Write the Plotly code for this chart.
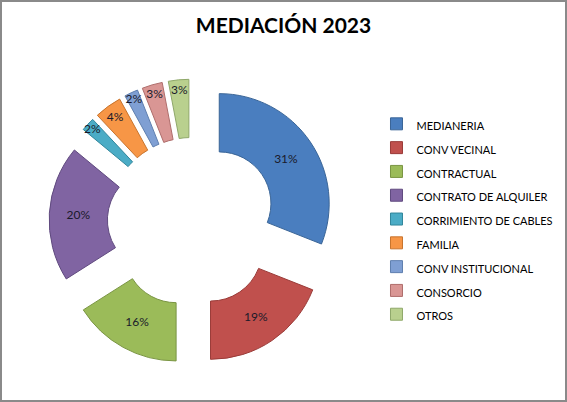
import plotly.graph_objects as go

categories = ["MEDIANERIA", "CONV VECINAL", "CONTRACTUAL", "CONTRATO DE ALQUILER",
              "CORRIMIENTO DE CABLES", "FAMILIA", "CONV INSTITUCIONAL", "CONSORCIO", "OTROS"]
values = [31, 19, 16, 20, 2, 4, 2, 3, 3]
colors = ["#4A7EBF", "#C0504D", "#9BBB59", "#8064A2", "#4BACC6",
          "#F79646", "#7F9FD3", "#D99694", "#B9D08E"]
line_colors = ["#3A6597", "#9A3B38", "#7A9543", "#604A7F", "#31869B",
               "#C8742D", "#5F7FAF", "#AF6E6C", "#8FA86A"]

title_text = "MEDIACIÓN 2023"

fig = go.Figure()
fig.add_trace(go.Pie(
    labels=[f'<span style="font-size:11px">{c}</span>' for c in categories],
    values=values,
    sort=False,
    direction="clockwise",
    rotation=0,
    hole=0.47,
    pull=[0.3] * len(values),
    marker=dict(colors=colors, line=dict(color=line_colors, width=1)),
    textinfo="percent",
    texttemplate="%{percent:.0%}",
    textposition="inside",
    insidetextorientation="horizontal",
    textfont=dict(family="Lato, Open Sans, sans-serif", size=12, color="#1a1a2a"),
    domain=dict(x=[0.0864, 0.5908], y=[0.092, 0.803]),
    hoverinfo="label+percent",
))

fig.update_layout(
    width=567, height=402,
    margin=dict(l=0, r=0, t=0, b=0),
    paper_bgcolor="white",
    plot_bgcolor="white",
    uniformtext=dict(minsize=12, mode="show"),
    title=dict(text=f"<b>{title_text}</b>", x=0.5, xanchor="center", y=0.935, yanchor="middle",
               font=dict(family="Lato, Open Sans, sans-serif", size=21, color="#000000")),
    legend=dict(x=0.664, y=0.734, xanchor="left", yanchor="top",
                font=dict(family="Lato, Open Sans, sans-serif", size=16, color="#000000"),
                bgcolor="rgba(0,0,0,0)", itemclick=False),
    shapes=[dict(type="rect", xref="paper", yref="paper", x0=0, y0=0, x1=1, y1=1,
                 line=dict(color="#8a8a8a", width=4), fillcolor="rgba(0,0,0,0)")],
)

fig.write_html("out.html",
               config={"displayModeBar": False},
               post_script="document.body.style.margin='0';document.body.style.padding='0';")
